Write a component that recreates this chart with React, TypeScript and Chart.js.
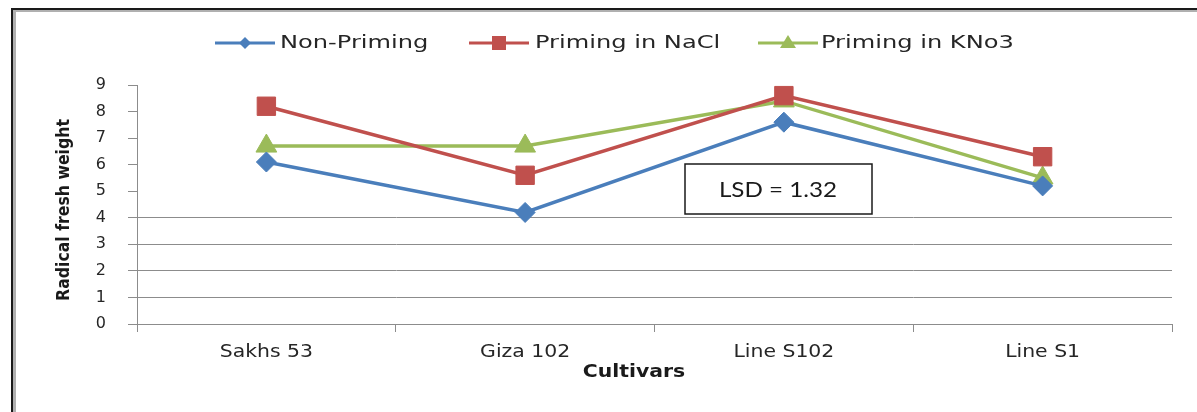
import React, { useEffect, useRef } from "react";
import { Chart, registerables } from "chart.js";

Chart.register(...registerables);

const cultivars = ["Sakhs 53", "Giza 102", "Line S102", "Line S1"];
const nonPriming = [6.1, 4.2, 7.6, 5.2];
const primingNaCl = [8.2, 5.6, 8.6, 6.3];
const primingKNO3 = [6.7, 6.7, 8.4, 5.5];
const seriesNames = ["Non-Priming", "Priming in NaCl", "Priming in KNo3"];
const yTicks = [0, 1, 2, 3, 4, 5, 6, 7, 8, 9];
const lsdText = "LSD = 1.32";
const xTitle = "Cultivars";
const yTitle = "Radical fresh weight";

const BLUE = "#4a7ebb";
const RED = "#c0504d";
const GREEN = "#9bbb59";
const GRID = "#8c8c8c";
const TEXT = "#262626";

// text stretched horizontally, like the wide lettering of the original figure
function wideText(
  ctx: CanvasRenderingContext2D,
  text: string,
  x: number,
  y: number,
  font: string,
  stretch: number,
  align: "left" | "center" = "left",
  color = TEXT
) {
  ctx.save();
  ctx.font = font;
  ctx.fillStyle = color;
  ctx.textBaseline = "middle";
  ctx.textAlign = "left";
  const w = ctx.measureText(text).width * stretch;
  const x0 = align === "center" ? x - w / 2 : x;
  ctx.translate(x0, y);
  ctx.scale(stretch, 1);
  ctx.fillText(text, 0, 0);
  ctx.restore();
}

// small legend marker in the series' point style
function legendMarker(ctx: CanvasRenderingContext2D, style: string, x: number, y: number, color: string) {
  ctx.save();
  ctx.fillStyle = color;
  ctx.beginPath();
  if (style === "rectRot") {
    const r = 6;
    ctx.moveTo(x, y - r);
    ctx.lineTo(x + r, y);
    ctx.lineTo(x, y + r);
    ctx.lineTo(x - r, y);
  } else if (style === "rect") {
    ctx.rect(x - 7, y - 7, 14, 14);
  } else {
    ctx.moveTo(x, y - 8);
    ctx.lineTo(x + 8, y + 5);
    ctx.lineTo(x - 8, y + 5);
  }
  ctx.closePath();
  ctx.fill();
  ctx.restore();
}

const decorations = {
  id: "decorations",
  beforeDraw(chart: any) {
    const { ctx } = chart;
    ctx.save();
    ctx.fillStyle = "#ffffff";
    ctx.fillRect(0, 0, chart.width, chart.height);
    // frame: dark rule with a grey shadow along the top and left sides
    ctx.fillStyle = "#b0b0b0";
    ctx.fillRect(13, 10, chart.width, 2);
    ctx.fillRect(13, 10, 3, chart.height);
    ctx.fillStyle = "#1a1a1a";
    ctx.fillRect(11, 8, chart.width, 2);
    ctx.fillRect(11, 8, 2, chart.height);
    ctx.restore();
  },
  afterDraw(chart: any) {
    const { ctx } = chart;
    const items = [
      { x: 215, tx: 280 },
      { x: 469, tx: 535 },
      { x: 758, tx: 821 },
    ];
    const legendY = 43;
    chart.data.datasets.forEach((ds: any, i: number) => {
      const it = items[i];
      ctx.save();
      ctx.strokeStyle = ds.borderColor;
      ctx.lineWidth = 3;
      ctx.beginPath();
      ctx.moveTo(it.x, legendY);
      ctx.lineTo(it.x + 60, legendY);
      ctx.stroke();
      ctx.restore();
      legendMarker(ctx, ds.pointStyle, it.x + 30, legendY, ds.borderColor);
      wideText(ctx, ds.label, it.tx, legendY, "18px 'DejaVu Sans'", 1.34);
    });

    // category labels under the x axis
    const xs = chart.scales.x;
    chart.data.labels.forEach((lab: string, i: number) => {
      wideText(ctx, lab, xs.getPixelForTick(i), 353, "17px 'DejaVu Sans'", 1.2, "center");
    });

    // axis titles
    wideText(ctx, xTitle, 634, 373, "bold 17px 'DejaVu Sans'", 1.2, "center", "#1a1a1a");
    ctx.save();
    ctx.translate(64, 210);
    ctx.rotate(-Math.PI / 2);
    wideText(ctx, yTitle, 0, 0, "bold 18px 'Liberation Sans Narrow', 'DejaVu Sans Condensed'", 0.97, "center", "#1a1a1a");
    ctx.restore();

    // LSD annotation box
    ctx.save();
    ctx.fillStyle = "#ffffff";
    ctx.fillRect(685, 164, 187, 50);
    ctx.strokeStyle = "#1a1a1a";
    ctx.lineWidth = 1.5;
    ctx.strokeRect(685, 164, 187, 50);
    ctx.restore();
    wideText(ctx, lsdText, 778, 190, "22px Lato", 1.1, "center", "#1a1a1a");
  },
};

export default function App() {
  const ref = useRef<HTMLCanvasElement | null>(null);

  useEffect(() => {
    document.body.style.margin = "0";
    const canvas = ref.current;
    if (!canvas) return;
    const mk = (label: string, data: number[], color: string, style: string, radius: number) => ({
      label,
      data,
      borderColor: color,
      backgroundColor: color,
      pointBackgroundColor: color,
      pointBorderColor: color,
      borderWidth: 3.5,
      pointStyle: style,
      pointRadius: radius,
      pointBorderWidth: 1,
      tension: 0,
    });
    const chart = new Chart(canvas, {
      type: "line",
      data: {
        labels: cultivars,
        datasets: [
          mk(seriesNames[0], nonPriming, BLUE, "rectRot", 10),
          mk(seriesNames[1], primingNaCl, RED, "rect", 13),
          mk(seriesNames[2], primingKNO3, GREEN, "triangle", 12),
        ] as any,
      },
      options: {
        responsive: false,
        animation: false,
        devicePixelRatio: 1,
        layout: { padding: { top: 85, right: 25, bottom: 0, left: 0 } },
        plugins: {
          legend: { display: false },
          tooltip: { enabled: false },
        },
        scales: {
          x: {
            type: "category",
            offset: true,
            afterFit: (s: any) => {
              s.height = 88;
            },
            grid: {
              drawOnChartArea: false,
              tickLength: 8,
              color: GRID,
              tickColor: GRID,
              offset: true,
            },
            border: { display: true, color: GRID, width: 1 },
            ticks: { display: false },
          },
          y: {
            min: 0,
            max: 9,
            afterFit: (s: any) => {
              s.width = 137;
            },
            afterBuildTicks: (s: any) => {
              s.ticks = yTicks.map((v) => ({ value: v }));
            },
            grid: {
              color: (c: any) => (c.tick && c.tick.value <= 4 ? GRID : "rgba(0,0,0,0)"),
              tickColor: GRID,
              tickLength: 9,
            },
            border: { display: true, color: GRID, width: 1 },
            ticks: {
              color: TEXT,
              font: { family: "'DejaVu Sans'", size: 16 },
              padding: 22,
            },
          },
        },
      },
      plugins: [decorations as any],
    });
    return () => chart.destroy();
  }, []);

  return (
    <div style={{ position: "absolute", left: 0, top: 0 }}>
      <canvas ref={ref} width={1197} height={412} style={{ display: "block" }} />
    </div>
  );
}
